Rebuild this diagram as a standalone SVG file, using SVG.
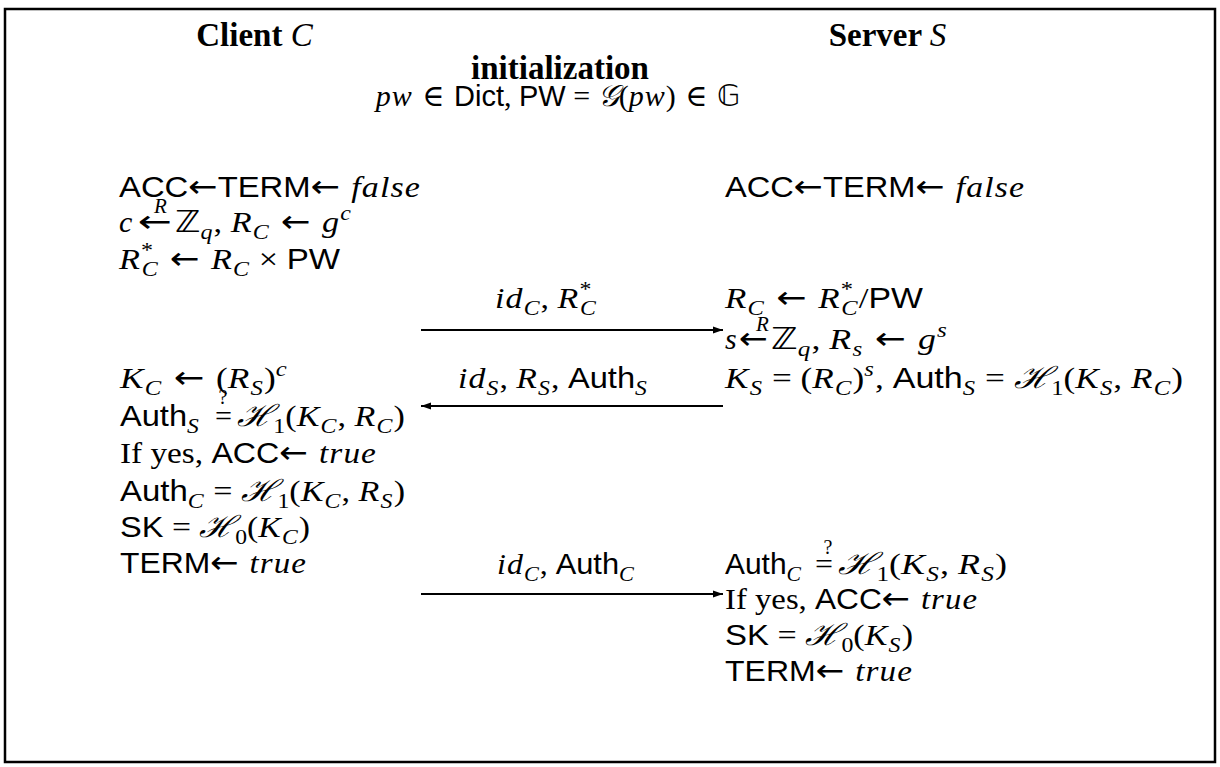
<svg xmlns="http://www.w3.org/2000/svg" width="1220" height="767" viewBox="0 0 1220 767">
<style>
text{font-family:"Liberation Serif",serif;font-size:30px;fill:#000;white-space:pre}
.m{font-family:"Liberation Serif",serif;font-style:italic;letter-spacing:1px}
.r{font-family:"Liberation Serif",serif;font-style:normal;letter-spacing:0}
.s{font-family:"Liberation Sans",sans-serif;font-style:normal;letter-spacing:0;font-size:29px}
.b{font-family:"Liberation Serif",serif;font-weight:bold}
.a{font-family:"DejaVu Sans",sans-serif;font-style:normal;letter-spacing:0;font-size:31px}
.e{font-family:"DejaVu Serif",serif;font-style:normal;letter-spacing:0}
.c{font-family:"DejaVu Serif",serif;font-style:italic;letter-spacing:0}
.bb{font-family:"DejaVu Sans",sans-serif;font-style:normal;letter-spacing:0}
.sm{font-size:21px}
.q{font-size:20px}
.h{font-size:33px}
.conn line{stroke:#000;stroke-width:2}
</style>
<defs>
<marker id="ah" viewBox="0 0 10 10" refX="10" refY="5" markerWidth="10" markerHeight="10" markerUnits="userSpaceOnUse" orient="auto">
<path d="M0,1.5 L10,5 L0,8.5 Z" fill="#000"/>
</marker>
</defs>
<rect x="5" y="9" width="1210" height="753" fill="#fff" stroke="#000" stroke-width="2.5"/>

<g id="header">
<text x="255" y="46" text-anchor="middle" class="h"><tspan class="b">Client </tspan><tspan class="m">C</tspan></text>
<text x="888" y="46" text-anchor="middle" class="h"><tspan class="b">Server </tspan><tspan class="m">S</tspan></text>
<text x="560" y="79" text-anchor="middle" class="b h">initialization</text>
<text x="558" y="106" text-anchor="middle"><tspan class="m">pw</tspan><tspan class="e"> ∈ </tspan><tspan class="s">Dict</tspan><tspan class="r">, </tspan><tspan class="s">PW</tspan><tspan class="r"> = </tspan><tspan class="c">𝒢</tspan><tspan class="r">(</tspan><tspan class="m">pw</tspan><tspan class="r">)</tspan><tspan class="e"> ∈ </tspan><tspan class="bb">𝔾</tspan></text>
</g>

<g id="client-init">
<text x="119" y="197" textLength="302" lengthAdjust="spacingAndGlyphs"><tspan class="s">ACC</tspan><tspan class="a">←</tspan><tspan class="s">TERM</tspan><tspan class="a">← </tspan><tspan class="m">false</tspan></text>
<text x="119" y="232" class="m">c</text>
<text x="138" y="232" class="a" textLength="34" lengthAdjust="spacingAndGlyphs">←</text>
<text x="161" y="213" class="m sm" text-anchor="middle">R</text>
<text x="175" y="232" textLength="177" lengthAdjust="spacingAndGlyphs"><tspan class="bb">ℤ</tspan><tspan class="m sm" dy="7">q</tspan><tspan class="r" dy="-7">, </tspan><tspan class="m">R</tspan><tspan class="m sm" dy="7">C</tspan><tspan class="a" dy="-7"> ← </tspan><tspan class="m">g</tspan><tspan class="m sm" dy="-12">c</tspan></text>
<text x="119" y="269" textLength="221" lengthAdjust="spacingAndGlyphs"><tspan class="m">R</tspan><tspan class="r sm" dy="-12">*</tspan><tspan class="m sm" dx="-10" dy="19">C</tspan><tspan class="a" dy="-7"> ← </tspan><tspan class="m">R</tspan><tspan class="m sm" dy="7">C</tspan><tspan class="r" dy="-7"> × </tspan><tspan class="s">PW</tspan></text>
</g>

<g id="server-init">
<text x="725" y="197" textLength="300" lengthAdjust="spacingAndGlyphs"><tspan class="s">ACC</tspan><tspan class="a">←</tspan><tspan class="s">TERM</tspan><tspan class="a">← </tspan><tspan class="m">false</tspan></text>
</g>

<g id="server-step1">
<text x="725" y="308" textLength="198" lengthAdjust="spacingAndGlyphs"><tspan class="m">R</tspan><tspan class="m sm" dy="7">C</tspan><tspan class="a" dy="-7"> ← </tspan><tspan class="m">R</tspan><tspan class="r sm" dy="-12">*</tspan><tspan class="m sm" dx="-10" dy="19">C</tspan><tspan class="r" dy="-7">/</tspan><tspan class="s">PW</tspan></text>
<text x="725" y="349" class="m">s</text>
<text x="739" y="349" class="a" textLength="29" lengthAdjust="spacingAndGlyphs">←</text>
<text x="763" y="331" class="m sm" text-anchor="middle">R</text>
<text x="771" y="349" textLength="177" lengthAdjust="spacingAndGlyphs"><tspan class="bb">ℤ</tspan><tspan class="m sm" dy="7">q</tspan><tspan class="r" dy="-7">, </tspan><tspan class="m">R</tspan><tspan class="m sm" dy="7">s</tspan><tspan class="a" dy="-7"> ← </tspan><tspan class="m">g</tspan><tspan class="m sm" dy="-12">s</tspan></text>
<text x="725" y="388" textLength="458" lengthAdjust="spacingAndGlyphs"><tspan class="m">K</tspan><tspan class="m sm" dy="7">S</tspan><tspan class="r" dy="-7"> = (</tspan><tspan class="m">R</tspan><tspan class="m sm" dy="7">C</tspan><tspan class="r" dy="-7">)</tspan><tspan class="m sm" dy="-12">s</tspan><tspan class="r" dy="12">, </tspan><tspan class="s">Auth</tspan><tspan class="m sm" dy="7">S</tspan><tspan class="r" dy="-7"> = </tspan><tspan class="c">ℋ</tspan><tspan class="r sm" dy="7">1</tspan><tspan class="r" dy="-7">(</tspan><tspan class="m">K</tspan><tspan class="m sm" dy="7">S</tspan><tspan class="r" dy="-7">, </tspan><tspan class="m">R</tspan><tspan class="m sm" dy="7">C</tspan><tspan class="r" dy="-7">)</tspan></text>
</g>

<g id="client-step2">
<text x="120" y="388" textLength="168" lengthAdjust="spacingAndGlyphs"><tspan class="m">K</tspan><tspan class="m sm" dy="7">C</tspan><tspan class="a" dy="-7"> ← </tspan><tspan class="r">(</tspan><tspan class="m">R</tspan><tspan class="m sm" dy="7">S</tspan><tspan class="r" dy="-7">)</tspan><tspan class="m sm" dy="-12">c</tspan></text>
<text x="120" y="426" textLength="80" lengthAdjust="spacingAndGlyphs"><tspan class="s">Auth</tspan><tspan class="m sm" dy="7">S</tspan></text>
<text x="215" y="426" class="r" textLength="17" lengthAdjust="spacingAndGlyphs">=</text>
<text x="223" y="404" class="r q" text-anchor="middle">?</text>
<text x="237" y="426" textLength="168" lengthAdjust="spacingAndGlyphs"><tspan class="c">ℋ</tspan><tspan class="r sm" dy="7">1</tspan><tspan class="r" dy="-7">(</tspan><tspan class="m">K</tspan><tspan class="m sm" dy="7">C</tspan><tspan class="r" dy="-7">, </tspan><tspan class="m">R</tspan><tspan class="m sm" dy="7">C</tspan><tspan class="r" dy="-7">)</tspan></text>
<text x="120" y="463" textLength="257" lengthAdjust="spacingAndGlyphs"><tspan class="r">If yes, </tspan><tspan class="s">ACC</tspan><tspan class="a">← </tspan><tspan class="m">true</tspan></text>
<text x="120" y="501" textLength="285" lengthAdjust="spacingAndGlyphs"><tspan class="s">Auth</tspan><tspan class="m sm" dy="7">C</tspan><tspan class="r" dy="-7"> = </tspan><tspan class="c">ℋ</tspan><tspan class="r sm" dy="7">1</tspan><tspan class="r" dy="-7">(</tspan><tspan class="m">K</tspan><tspan class="m sm" dy="7">C</tspan><tspan class="r" dy="-7">, </tspan><tspan class="m">R</tspan><tspan class="m sm" dy="7">S</tspan><tspan class="r" dy="-7">)</tspan></text>
<text x="120" y="537" textLength="190" lengthAdjust="spacingAndGlyphs"><tspan class="s">SK</tspan><tspan class="r"> = </tspan><tspan class="c">ℋ</tspan><tspan class="r sm" dy="7">0</tspan><tspan class="r" dy="-7">(</tspan><tspan class="m">K</tspan><tspan class="m sm" dy="7">C</tspan><tspan class="r" dy="-7">)</tspan></text>
<text x="120" y="573" textLength="187" lengthAdjust="spacingAndGlyphs"><tspan class="s">TERM</tspan><tspan class="a">← </tspan><tspan class="m">true</tspan></text>
</g>

<g id="server-step3">
<text x="725" y="574" textLength="77" lengthAdjust="spacingAndGlyphs"><tspan class="s">Auth</tspan><tspan class="m sm" dy="7">C</tspan></text>
<text x="815" y="574" class="r" textLength="18" lengthAdjust="spacingAndGlyphs">=</text>
<text x="828" y="554" class="r q" text-anchor="middle">?</text>
<text x="838" y="574" textLength="169" lengthAdjust="spacingAndGlyphs"><tspan class="c">ℋ</tspan><tspan class="r sm" dy="7">1</tspan><tspan class="r" dy="-7">(</tspan><tspan class="m">K</tspan><tspan class="m sm" dy="7">S</tspan><tspan class="r" dy="-7">, </tspan><tspan class="m">R</tspan><tspan class="m sm" dy="7">S</tspan><tspan class="r" dy="-7">)</tspan></text>
<text x="725" y="609" textLength="253" lengthAdjust="spacingAndGlyphs"><tspan class="r">If yes, </tspan><tspan class="s">ACC</tspan><tspan class="a">← </tspan><tspan class="m">true</tspan></text>
<text x="725" y="645" textLength="188" lengthAdjust="spacingAndGlyphs"><tspan class="s">SK</tspan><tspan class="r"> = </tspan><tspan class="c">ℋ</tspan><tspan class="r sm" dy="7">0</tspan><tspan class="r" dy="-7">(</tspan><tspan class="m">K</tspan><tspan class="m sm" dy="7">S</tspan><tspan class="r" dy="-7">)</tspan></text>
<text x="725" y="681" textLength="188" lengthAdjust="spacingAndGlyphs"><tspan class="s">TERM</tspan><tspan class="a">← </tspan><tspan class="m">true</tspan></text>
</g>

<g id="connectors" class="conn">
<line x1="421" y1="330" x2="723" y2="330" marker-end="url(#ah)"/>
<line x1="723" y1="406" x2="421" y2="406" marker-end="url(#ah)"/>
<line x1="421" y1="594" x2="723" y2="594" marker-end="url(#ah)"/>
<text x="495" y="308" textLength="102" lengthAdjust="spacingAndGlyphs"><tspan class="m">id</tspan><tspan class="m sm" dy="7">C</tspan><tspan class="r" dy="-7">, </tspan><tspan class="m">R</tspan><tspan class="r sm" dy="-12">*</tspan><tspan class="m sm" dx="-10" dy="19">C</tspan></text>
<text x="458" y="388" textLength="190" lengthAdjust="spacingAndGlyphs"><tspan class="m">id</tspan><tspan class="m sm" dy="7">S</tspan><tspan class="r" dy="-7">, </tspan><tspan class="m">R</tspan><tspan class="m sm" dy="7">S</tspan><tspan class="r" dy="-7">, </tspan><tspan class="s">Auth</tspan><tspan class="m sm" dy="7">S</tspan></text>
<text x="497" y="574" textLength="138" lengthAdjust="spacingAndGlyphs"><tspan class="m">id</tspan><tspan class="m sm" dy="7">C</tspan><tspan class="r" dy="-7">, </tspan><tspan class="s">Auth</tspan><tspan class="m sm" dy="7">C</tspan></text>
</g>
</svg>
